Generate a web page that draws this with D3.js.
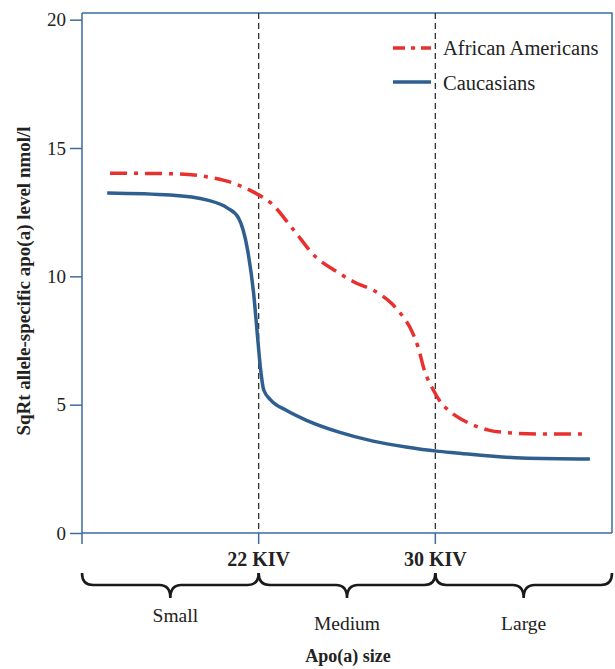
<!DOCTYPE html>
<html lang="en">
  <head>
    <title>Apo(a) size</title>
    <script src="https://d3js.org/d3.v7.min.js"></script>
    <style>
      body { margin: 0; background: #fff; }
      text { font-family: "Liberation Serif", "Times New Roman", serif; fill: #222; }
    </style>
  </head>
  <body>
  <script>
  const width = 615;
  const height = 669;

  // KIV position (x) and SqRt allele-specific level (y)
  const africanX = [15.27, 18.45, 19.95, 20.86, 21.77, 22.55, 23.59, 24.59, 25.41, 26.32, 27.41, 28.0,
    28.55, 28.91, 29.23, 29.5, 29.91, 30.27, 30.59, 31.5, 32.41, 33.45, 34.68, 36.77];
  const africanY = [14.02, 13.99, 13.83, 13.63, 13.28, 12.86, 11.8, 10.75, 10.25, 9.78, 9.35, 8.96,
    8.41, 7.91, 7.21, 6.35, 5.57, 5.06, 4.79, 4.29, 4.01, 3.9, 3.86, 3.86];
  const caucX = [15.14, 18.0, 19.68, 20.59, 21.09, 21.5, 21.77, 21.95, 22.09, 22.23, 22.55, 23.23,
    24.14, 25.64, 27.18, 28.68, 30.05, 30.95, 33.91, 37.0];
  const caucY = [13.25, 13.17, 12.97, 12.66, 12.27, 11.02, 9.35, 7.64, 6.35, 5.57, 5.18, 4.79,
    4.4, 3.93, 3.58, 3.35, 3.19, 3.12, 2.92, 2.88];

  const yTicks = [0, 5, 10, 15, 20];
  const yMax = 20.26;
  const cutoffs = [22, 30];
  const cutoffLabels = ["22 KIV", "30 KIV"];
  const groups = ["Small", "Medium", "Large"];
  const groupBounds = [[14, 22], [22, 30], [30, 38]];

  const axisColor = "#3d6d9e";
  const redColor = "#e8312f";
  const blueColor = "#2f5f8e";
  const serif = "'Liberation Serif', 'Times New Roman', serif";

  const svg = d3.select(document.body).append('svg').attr('width', width).attr('height', height);

  const x = d3.scaleLinear().domain([14, 38]).range([82, 612]);
  const y = d3.scaleLinear().domain([0, yMax]).range([533, 13]);

  // frame (top + right)
  svg.append("path")
    .attr("d", `M${x(14)},${y(yMax)}H${x(38)}V${y(0)}`)
    .attr("fill", "none").attr("stroke", axisColor).attr("stroke-width", 1.5);

  // x axis line
  svg.append("line")
    .attr("x1", x(14)).attr("x2", x(38)).attr("y1", y(0)).attr("y2", y(0))
    .attr("stroke", axisColor).attr("stroke-width", 1.5);

  // y axis
  const yAxis = svg.append("g")
    .attr("transform", `translate(${x(14)},0)`)
    .call(d3.axisLeft(y).tickValues(yTicks).tickSize(12).tickSizeOuter(0).tickPadding(4));
  yAxis.attr("font-family", null);
  yAxis.select(".domain").attr("d", `M0,${y(yMax)}V${y(0) + 11}`).attr("stroke", axisColor).attr("stroke-width", 1.5);
  yAxis.selectAll(".tick line").attr("stroke", axisColor).attr("stroke-width", 1.5);
  yAxis.selectAll(".tick text")
    .style("font-family", serif).style("font-size", "19px").attr("fill", "#222");

  // cut-off dashed lines + ticks
  svg.selectAll(".cut").data(cutoffs).enter().append("line")
    .attr("x1", d => x(d)).attr("x2", d => x(d))
    .attr("y1", y(yMax)).attr("y2", y(0))
    .attr("stroke", "#333").attr("stroke-width", 1.3).attr("stroke-dasharray", "6,4");
  svg.selectAll(".cutTick").data(cutoffs).enter().append("line")
    .attr("x1", d => x(d)).attr("x2", d => x(d))
    .attr("y1", y(0)).attr("y2", y(0) + 11)
    .attr("stroke", axisColor).attr("stroke-width", 1.5);
  svg.selectAll(".cutLabel").data(cutoffs).enter().append("text")
    .attr("x", d => x(d)).attr("y", 566)
    .attr("text-anchor", "middle").attr("font-weight", "bold").attr("font-size", 20)
    .text((d, i) => cutoffLabels[i]);

  // curves
  const line = d3.line().x(d => x(d[0])).y(d => y(d[1])).curve(d3.curveMonotoneX);

  svg.append("path")
    .datum(caucX.map((v, i) => [v, caucY[i]]))
    .attr("d", line)
    .attr("fill", "none").attr("stroke", blueColor).attr("stroke-width", 3.5);

  svg.append("path")
    .datum(africanX.map((v, i) => [v, africanY[i]]))
    .attr("d", line)
    .attr("fill", "none").attr("stroke", redColor).attr("stroke-width", 3.5)
    .attr("stroke-dasharray", "17,7,4,7");

  // legend
  const legend = svg.append("g");
  legend.append("line").attr("x1", 393).attr("x2", 431).attr("y1", 48).attr("y2", 48)
    .attr("stroke", redColor).attr("stroke-width", 3.5).attr("stroke-dasharray", "12,6,4,6");
  legend.append("text").attr("x", 443).attr("y", 55).attr("font-size", 20.5).text("African Americans");
  legend.append("line").attr("x1", 393).attr("x2", 431).attr("y1", 82).attr("y2", 82)
    .attr("stroke", blueColor).attr("stroke-width", 3.5);
  legend.append("text").attr("x", 443).attr("y", 90).attr("font-size", 20.5).text("Caucasians");

  // braces
  function brace(x1, x2) {
    const yT = 573, yM = 585, yB = 598, r = 11;
    const cx = (x1 + x2) / 2;
    return `M${x1},${yT}Q${x1},${yM} ${x1 + r},${yM}L${cx - r},${yM}Q${cx},${yM} ${cx},${yB}` +
      `Q${cx},${yM} ${cx + r},${yM}L${x2 - r},${yM}Q${x2},${yM} ${x2},${yT}`;
  }
  svg.selectAll(".brace").data(groupBounds).enter().append("path")
    .attr("d", d => brace(x(d[0]), x(d[1])))
    .attr("fill", "none").attr("stroke", "#1a1a1a").attr("stroke-width", 2.6);

  const groupLabelY = [622, 630, 630];
  svg.selectAll(".group").data(groups).enter().append("text")
    .attr("x", (d, i) => (x(groupBounds[i][0]) + x(groupBounds[i][1])) / 2 + (i === 0 ? 5 : 0))
    .attr("y", (d, i) => groupLabelY[i])
    .attr("text-anchor", "middle").attr("font-size", 19.5)
    .text(d => d);

  // axis titles
  svg.append("text").attr("x", 348).attr("y", 662)
    .attr("text-anchor", "middle").attr("font-weight", "bold").attr("font-size", 18)
    .text("Apo(a) size");

  svg.append("text")
    .attr("transform", "translate(30,281) rotate(-90)")
    .attr("text-anchor", "middle").attr("font-weight", "bold").attr("font-size", 19)
    .text("SqRt allele-specific apo(a) level nmol/l");
</script>
  </body>
</html>
